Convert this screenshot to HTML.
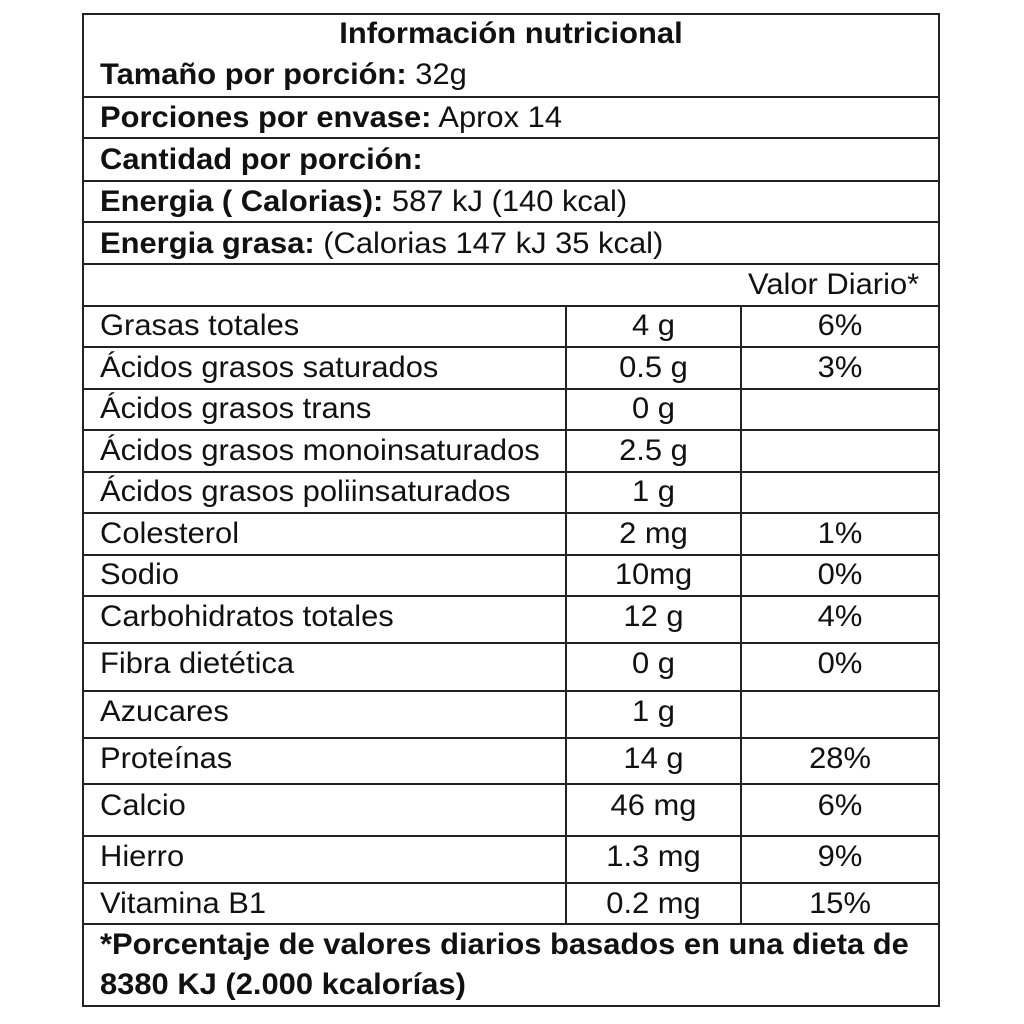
<!DOCTYPE html>
<html><head><meta charset="utf-8"><style>
html,body{margin:0;padding:0;background:#fff;width:1024px;height:1024px;overflow:hidden}
body{position:relative;font-family:"Liberation Sans",Arial,sans-serif;color:#111;font-size:30px}
.h{position:absolute;height:2px;background:#222}
.v{position:absolute;width:2px;background:#222}
.t{position:absolute;white-space:nowrap;line-height:1;transform:scaleX(1.03);transform-origin:0 0;margin-top:-1px}
.c{text-align:center;transform-origin:50% 0}
b{font-weight:bold}
</style></head><body>
<div class="h" style="left:82px;width:858px;top:13px"></div>
<div class="h" style="left:82px;width:858px;top:1005px"></div>
<div class="v" style="left:82px;top:13px;height:994px"></div>
<div class="v" style="left:938px;top:13px;height:994px"></div>
<div class="h" style="left:82px;width:858px;top:96px"></div>
<div class="h" style="left:82px;width:858px;top:137px"></div>
<div class="h" style="left:82px;width:858px;top:180px"></div>
<div class="h" style="left:82px;width:858px;top:221px"></div>
<div class="h" style="left:82px;width:858px;top:263px"></div>
<div class="h" style="left:82px;width:858px;top:305px"></div>
<div class="h" style="left:82px;width:858px;top:346px"></div>
<div class="h" style="left:82px;width:858px;top:388px"></div>
<div class="h" style="left:82px;width:858px;top:429px"></div>
<div class="h" style="left:82px;width:858px;top:471px"></div>
<div class="h" style="left:82px;width:858px;top:512px"></div>
<div class="h" style="left:82px;width:858px;top:554px"></div>
<div class="h" style="left:82px;width:858px;top:595px"></div>
<div class="h" style="left:82px;width:858px;top:642px"></div>
<div class="h" style="left:82px;width:858px;top:690px"></div>
<div class="h" style="left:82px;width:858px;top:737px"></div>
<div class="h" style="left:82px;width:858px;top:783px"></div>
<div class="h" style="left:82px;width:858px;top:835px"></div>
<div class="h" style="left:82px;width:858px;top:882px"></div>
<div class="h" style="left:82px;width:858px;top:923px"></div>
<div class="v" style="left:565px;top:305px;height:620px"></div>
<div class="v" style="left:740px;top:305px;height:620px"></div>

<div class="t c" style="left:82px;width:858px;top:20px"><b>Información nutricional</b></div>
<div class="t" style="left:100px;top:61px"><b>Tamaño por porción:</b> 32g</div>
<div class="t" style="left:100px;top:104px"><b>Porciones por envase:</b> Aprox 14</div>
<div class="t" style="left:100px;top:146px"><b>Cantidad por porción:</b></div>
<div class="t" style="left:100px;top:188px"><b>Energia ( Calorias):</b> 587 kJ (140 kcal)</div>
<div class="t" style="left:100px;top:230px"><b>Energia grasa:</b> (Calorias 147 kJ 35 kcal)</div>
<div class="t" style="left:748px;top:271px">Valor Diario*</div>

<div class="t" style="left:100px;top:312px">Grasas totales</div>
<div class="t" style="left:100px;top:354px">Ácidos grasos saturados</div>
<div class="t" style="left:100px;top:395px">Ácidos grasos trans</div>
<div class="t" style="left:100px;top:437px">Ácidos grasos monoinsaturados</div>
<div class="t" style="left:100px;top:478px">Ácidos grasos poliinsaturados</div>
<div class="t" style="left:100px;top:520px">Colesterol</div>
<div class="t" style="left:100px;top:561px">Sodio</div>
<div class="t" style="left:100px;top:603px">Carbohidratos totales</div>
<div class="t" style="left:100px;top:650px">Fibra dietética</div>
<div class="t" style="left:100px;top:698px">Azucares</div>
<div class="t" style="left:100px;top:745px">Proteínas</div>
<div class="t" style="left:100px;top:792px">Calcio</div>
<div class="t" style="left:100px;top:843px">Hierro</div>
<div class="t" style="left:100px;top:890px">Vitamina B1</div>

<div class="t c" style="left:567px;width:173px;top:312px">4 g</div>
<div class="t c" style="left:567px;width:173px;top:354px">0.5 g</div>
<div class="t c" style="left:567px;width:173px;top:395px">0 g</div>
<div class="t c" style="left:567px;width:173px;top:437px">2.5 g</div>
<div class="t c" style="left:567px;width:173px;top:478px">1 g</div>
<div class="t c" style="left:567px;width:173px;top:520px">2 mg</div>
<div class="t c" style="left:567px;width:173px;top:561px">10mg</div>
<div class="t c" style="left:567px;width:173px;top:603px">12 g</div>
<div class="t c" style="left:567px;width:173px;top:650px">0 g</div>
<div class="t c" style="left:567px;width:173px;top:698px">1 g</div>
<div class="t c" style="left:567px;width:173px;top:745px">14 g</div>
<div class="t c" style="left:567px;width:173px;top:792px">46 mg</div>
<div class="t c" style="left:567px;width:173px;top:843px">1.3 mg</div>
<div class="t c" style="left:567px;width:173px;top:890px">0.2 mg</div>

<div class="t c" style="left:742px;width:196px;top:312px">6%</div>
<div class="t c" style="left:742px;width:196px;top:354px">3%</div>
<div class="t c" style="left:742px;width:196px;top:520px">1%</div>
<div class="t c" style="left:742px;width:196px;top:561px">0%</div>
<div class="t c" style="left:742px;width:196px;top:603px">4%</div>
<div class="t c" style="left:742px;width:196px;top:650px">0%</div>
<div class="t c" style="left:742px;width:196px;top:745px">28%</div>
<div class="t c" style="left:742px;width:196px;top:792px">6%</div>
<div class="t c" style="left:742px;width:196px;top:843px">9%</div>
<div class="t c" style="left:742px;width:196px;top:890px">15%</div>

<div class="t" style="left:100px;top:931px"><b>*Porcentaje de valores diarios basados en una dieta de</b></div>
<div class="t" style="left:100px;top:971px"><b>8380 KJ (2.000 kcalorías)</b></div>
</body></html>
